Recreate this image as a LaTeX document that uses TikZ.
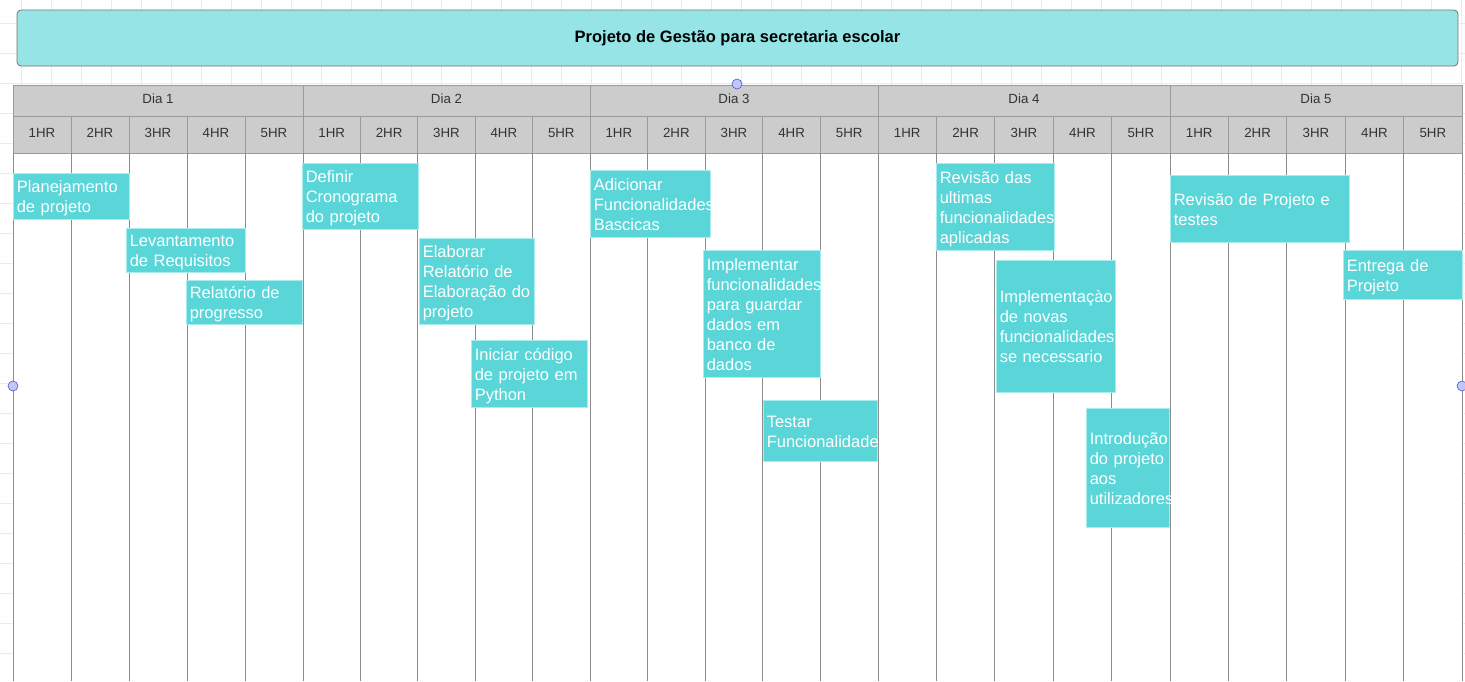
\documentclass[tikz,border=0pt]{standalone}
\usepackage{fontspec}
\setmainfont{Liberation Sans}
\usetikzlibrary{positioning}
\definecolor{titlefill}{HTML}{96E4E6}
\definecolor{taskfill}{HTML}{5AD5D8}
\definecolor{taskline}{HTML}{A8ECEE}
\definecolor{headfill}{HTML}{CCCCCC}
\definecolor{headline}{HTML}{9A9A9A}
\definecolor{colline}{HTML}{8C8C8C}
\definecolor{gridgray}{HTML}{EBEBEB}
\definecolor{handlefill}{HTML}{C3C6FA}
\definecolor{handleline}{HTML}{4D55D8}
\hyphenpenalty=10000
\tikzset{
  headcell/.style={draw=headline, fill=headfill, line width=0.8pt},
  headtext/.style={text=black!80, font=\fontsize{13.3}{16}\selectfont},
  titlebox/.style={draw=black!55, fill=titlefill, rounded corners=4pt, line width=0.8pt, font=\bfseries\fontsize{16.5}{20}\selectfont},
  taskbox/.style={draw=taskline, fill=taskfill, text=white, font=\fontsize{16.5}{20}\selectfont, align=left, anchor=north west, inner xsep=3.5pt, inner ysep=0pt, line width=0.6pt,
    execute at begin node={\rule{0pt}{17pt}}, execute at end node={\rule[-4pt]{0pt}{4pt}}},
  handle/.style={circle, draw=handleline, fill=handlefill, minimum size=10pt, inner sep=0pt, line width=0.6pt}
}
\begin{document}
\begin{tikzpicture}[x=1pt, y=-1pt]
\useasboundingbox (0,0) rectangle (1465,681);
\foreach \gx in {21.7,51.7,...,1465} \draw[gridgray, line width=0.8pt] (\gx,0) -- (\gx,681);
\foreach \gy in {23.5,53.5,...,681} \draw[gridgray, line width=0.8pt] (0,\gy) -- (1465,\gy);
\fill[white] (13,153) rectangle (1462,681);
\foreach \d/\xa/\xb in {1/13/303, 2/303/590, 3/590/878, 4/878/1170, 5/1170/1462} {
  \draw[headcell] (\xa,85) rectangle (\xb,116);
  \node[headtext] (dia\d) at ({(\xa+\xb)/2},99) {Dia \d};
  \foreach \h in {1,...,5} {
    \pgfmathsetmacro\ha{\xa+(\h-1)*(\xb-\xa)/5}
    \pgfmathsetmacro\hb{\xa+\h*(\xb-\xa)/5}
    \draw[headcell] (\ha,116) rectangle (\hb,153);
    \node[headtext] (h\d\h) at ({(\ha+\hb)/2},133) {\h HR};
    \draw[colline, line width=0.8pt] (\ha,153) -- (\ha,681);
  }
}
\draw[colline, line width=0.8pt] (1462,153) -- (1462,681);
\node[titlebox, minimum width=1441pt, minimum height=56pt] (titulo) at (737.5,38) {Projeto de Gestão para secretaria escolar};

\node[taskbox, text width=109pt, minimum height=46pt] (plan) at (13,173) {Planejamento\\de projeto};
\node[taskbox, text width=112pt, minimum height=44pt] (levant) at (126,228) {Levantamento\\de Requisitos};
\node[taskbox, text width=109pt, minimum height=44pt] (relprog) at (186,280) {Relatório de\\progresso};
\node[taskbox, text width=109pt, minimum height=66pt] (crono) at (302,163) {Definir\\Cronograma\\do projeto};
\node[taskbox, text width=108pt, minimum height=86pt] (elabrel) at (419,238) {Elaborar\\Relatório de\\Elaboração do\\projeto};
\node[taskbox, text width=109pt, minimum height=67pt] (codigo) at (471,340) {Iniciar código\\de projeto em\\Python};
\node[taskbox, text width=113pt, minimum height=67pt] (basicas) at (590,170) {Adicionar\\Funcionalidades\\Bascicas};
\node[taskbox, text width=110pt, minimum height=127pt] (guardar) at (703,250) {Implementar\\funcionalidades\\para guardar\\dados em\\banco de\\dados};
\node[taskbox, text width=107pt, minimum height=61pt] (testar) at (763,400) {Testar\\Funcionalidade};
\node[taskbox, text width=111pt, minimum height=87pt] (revisao) at (936,163) {Revisão das\\ultimas\\funcionalidades\\aplicadas};
\node[taskbox, text width=112pt, minimum height=132pt] (novas) at (996,260) {Implementaçào\\de novas\\funcionalidades\\se necessario};
\node[taskbox, text width=76pt, minimum height=119pt] (intro) at (1086,408) {Introdução\\do projeto\\aos\\utilizadores};
\node[taskbox, text width=172pt, minimum height=67pt] (revproj) at (1170,175) {Revisão de Projeto e\\testes};
\node[taskbox, text width=112pt, minimum height=49pt] (entrega) at (1343,250) {Entrega de\\Projeto};

\node[handle] (hTop) at (737,84) {};
\node[handle] (hLeft) at (13,386) {};
\node[handle] (hRight) at (1462,386) {};
\end{tikzpicture}
\end{document}
